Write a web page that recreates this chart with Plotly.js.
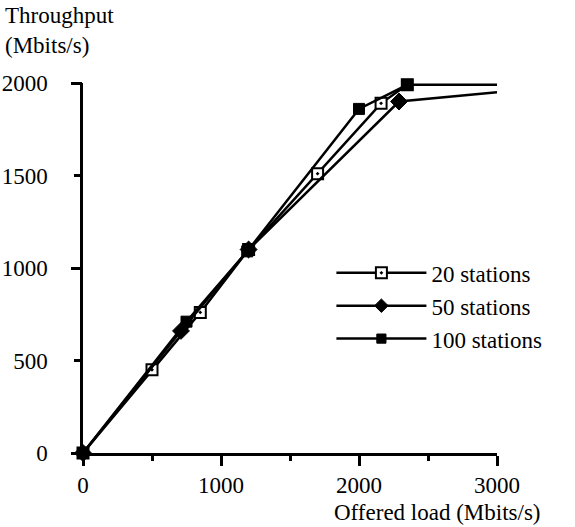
<!DOCTYPE html>
<html>
<head>
<meta charset="utf-8">
<script src="https://cdn.plot.ly/plotly-3.0.1.min.js"></script>
</head>
<body style="margin:0;background:#fff">
<div style="position:absolute;left:5px;top:1px;z-index:5;font-family:'Liberation Serif';font-size:23px;line-height:30px;color:#000">Throughput<br>(Mbits/s)</div>
<div id="chart" style="position:absolute;left:0;top:0;width:575px;height:527px"></div>
<script>
// Data
const seriesNames = ["20 stations", "50 stations", "100 stations"];
const load20 = [0, 500, 850, 1200, 1700, 2160, 2350];
const thr20  = [0, 450, 760, 1100, 1510, 1890, 1990];
const load50 = [0, 710, 1200, 2290, 3000];
const thr50  = [0, 660, 1100, 1900, 1950];
const load100 = [0, 750, 1190, 2000, 2350, 3000];
const thr100  = [0, 710, 1090, 1860, 1990, 1990];
const xTickVals = [0, 1000, 2000, 3000];
const yTickVals = [0, 500, 1000, 1500, 2000];

function sizesNoLast(arr, s) { return arr.map((v, i) => (i === arr.length - 1 && v === 3000) ? 0 : s); }
function fnt() { return {family: "Liberation Serif", size: 23, color: "#000"}; }

const traces = [
  {x: load20, y: thr20, name: seriesNames[0], mode: "lines+markers",
   line: {color: "#000", width: 2.5},
   marker: {symbol: "square-dot", size: 11, color: "#fff", opacity: 1, line: {color: "#000", width: 2}},
   cliponaxis: false},
  {x: load50, y: thr50, name: seriesNames[1], mode: "lines+markers",
   line: {color: "#000", width: 2.5},
   marker: {symbol: "diamond", size: sizesNoLast(load50, 13), color: "#000", opacity: 1, line: {color: "#000", width: 1}},
   cliponaxis: false},
  {x: load100, y: thr100, name: seriesNames[2], mode: "lines+markers",
   line: {color: "#000", width: 2.5},
   marker: {symbol: "square", size: sizesNoLast(load100, 11), color: "#000", opacity: 1, line: {color: "#000", width: 1}},
   cliponaxis: false},
  // overlay axis carrying the longer major ticks on y
  {x: [0], y: [0], xaxis: "x", yaxis: "y2", mode: "markers", marker: {size: 1, opacity: 0},
   showlegend: false, hoverinfo: "skip"}
];

const layout = {
  width: 575, height: 527,
  margin: {l: 83, r: 78, t: 83, b: 74},
  paper_bgcolor: "rgba(0,0,0,0)", plot_bgcolor: "rgba(0,0,0,0)",
  font: fnt(),
  showlegend: true,
  legend: {x: 0.6, y: 0.545, xanchor: "left", yanchor: "top", bgcolor: "rgba(0,0,0,0)",
           itemwidth: 90, font: fnt(), traceorder: "normal"},
  xaxis: {range: [0, 3000], tickvals: xTickVals, ticktext: xTickVals.map(String),
          ticks: "outside", ticklen: 10, tickwidth: 2.5, tickcolor: "#000",
          minor: {dtick: 500, ticks: "outside", ticklen: 5, tickwidth: 2.5, tickcolor: "#000", showgrid: false},
          showline: true, linecolor: "#000", linewidth: 2.5, showgrid: false, zeroline: false,
          tickfont: fnt()},
  yaxis: {range: [0, 2000], tickvals: yTickVals, ticktext: yTickVals.map(String),
          ticks: "outside", ticklen: 6, tickwidth: 2.5, tickcolor: "#000", ticklabelstandoff: 22,
          showline: true, linecolor: "#000", linewidth: 2.5, showgrid: false, zeroline: false,
          tickfont: fnt()},
  yaxis2: {range: [0, 2000], overlaying: "y", side: "left", tickvals: [0, 1000, 2000],
           ticks: "outside", ticklen: 11, tickwidth: 2.5, tickcolor: "#000",
           showticklabels: false, showgrid: false, zeroline: false, showline: false},
  annotations: [
    {text: "Offered load (Mbits/s)", xref: "paper", yref: "paper", x: 1.11, y: -0.162, xanchor: "right", yanchor: "middle",
     showarrow: false, font: fnt()}
  ]
};

Plotly.newPlot("chart", traces, layout, {displayModeBar: false});
if (document.fonts && document.fonts.ready) {
  document.fonts.ready.then(function () { Plotly.react("chart", traces, layout, {displayModeBar: false}); });
}
</script>
</body>
</html>
